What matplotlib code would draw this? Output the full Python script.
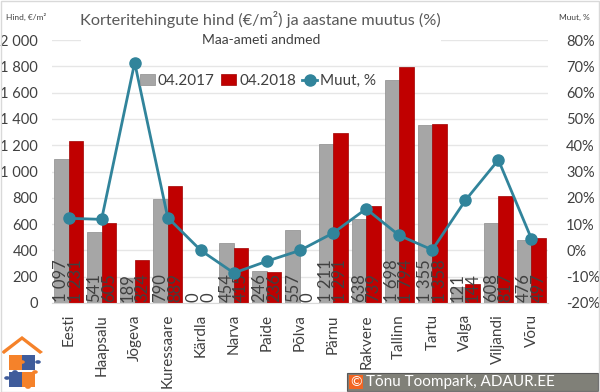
import matplotlib
matplotlib.use("Agg")
import matplotlib.pyplot as plt
from matplotlib.patches import Rectangle, Polygon, Circle
from matplotlib.ticker import FuncFormatter, MultipleLocator
import numpy as np

plt.rcParams['font.family'] = ['Lato', 'DejaVu Sans']

categories = ["Eesti", "Haapsalu", "Jõgeva", "Kuressaare", "Kärdla", "Narva", "Paide",
              "Põlva", "Pärnu", "Rakvere", "Tallinn", "Tartu", "Valga", "Viljandi", "Võru"]
price_2017 = [1097, 541, 189, 790, 0, 454, 246, 557, 1211, 638, 1698, 1355, 121, 608, 476]
price_2018 = [1231, 605, 324, 889, 0, 415, 236, 0, 1291, 739, 1794, 1358, 144, 817, 497]
change_pct = [12.2, 11.8, 71.4, 12.5, 0.0, -8.6, -4.1, 0.0, 6.6, 15.8, 5.7, 0.2, 19.0, 34.4, 4.4]

GRAY = "#A6A6A6"
RED = "#C00000"
TEAL = "#31849B"
TXT = "#404040"

fig = plt.figure(figsize=(6.0, 3.92), dpi=100)
ax = fig.add_axes([52/600, 1-303/392, 496/600, 263/392])
ax2 = ax.twinx()

x = np.arange(len(categories))
w = 0.44
ax.bar(x - w/2, price_2017, w, color=GRAY, edgecolor="#8C8C8C", linewidth=0.5, label="04.2017", zorder=2)
ax.bar(x + w/2, price_2018, w, color=RED, edgecolor="#A00000", linewidth=0.5, label="04.2018", zorder=2)

for xi, v in zip(x - w/2, price_2017):
    ax.text(xi, 4, f"{v:,}".replace(",", " "), rotation=90, ha="center", va="bottom",
            fontsize=12, color=TXT, zorder=3)
for xi, v in zip(x + w/2, price_2018):
    ax.text(xi, 4, f"{v:,}".replace(",", " "), rotation=90, ha="center", va="bottom",
            fontsize=12, color=TXT, zorder=3)

ax.set_ylim(0, 2000)
ax.set_xlim(-0.5, len(categories) - 0.5)
ax.yaxis.set_major_locator(MultipleLocator(200))
ax.yaxis.set_major_formatter(FuncFormatter(lambda v, p: f"{int(v):,}".replace(",", " ")))
ax.grid(axis="y", color="#E6E6E6", linewidth=1, zorder=0)
ax.set_axisbelow(True)
ax.set_xticks(x)
ax.set_xticklabels(categories, rotation=90, fontsize=11, color=TXT)
ax.tick_params(axis="x", length=0, pad=8)
ax.tick_params(axis="y", length=0, labelsize=10.5, labelcolor=TXT, pad=10)
for s in ["top", "left", "right"]:
    ax.spines[s].set_visible(False)
ax.spines["bottom"].set_color("#D9D9D9")

ax2.plot(x, change_pct, color=TEAL, linewidth=2, marker="o", markersize=8, label="Muut, %", zorder=4)
ax2.set_ylim(-20, 80)
ax2.yaxis.set_major_locator(MultipleLocator(10))
ax2.yaxis.set_major_formatter(FuncFormatter(lambda v, p: f"{int(round(v))}%"))
ax2.tick_params(axis="y", length=0, labelsize=10.5, labelcolor=TXT, pad=13)
for s in ["top", "left", "right", "bottom"]:
    ax2.spines[s].set_visible(False)

h1, l1 = ax.get_legend_handles_labels()
h2, l2 = ax2.get_legend_handles_labels()
fig.legend(h1 + h2, l1 + l2, loc="center", bbox_to_anchor=(258/600, 1-81/392), ncol=3,
           frameon=False, fontsize=11, handlelength=1.0, handletextpad=0.2,
           columnspacing=0.4, labelcolor=TXT)

# white box behind titles (covers top gridline)
fig.patches.append(Rectangle((81/600, 1-50/392), 360/600, 20/392, transform=fig.transFigure,
                             facecolor="white", edgecolor="none", zorder=5))
fig.text(260/600, 1-19/392, "Korteritehingute hind (€/m²) ja aastane muutus (%)", ha="center",
         va="center", fontsize=11.7, color="#595959", zorder=6)
fig.text(261/600, 1-40/392, "Maa-ameti andmed", ha="center", va="center", fontsize=10,
         color=TXT, zorder=6)
fig.text(6/600, 1-17/392, "Hind, €/m²", ha="left", va="center", fontsize=6, color=TXT)
fig.text(590/600, 1-17/392, "Muut, %", ha="right", va="center", fontsize=6, color=TXT)

# logo (puzzle house)
def fx(px): return px/600
def fy(py): return 1 - py/392
ORANGE = "#F5822A"
BLUE = "#3F5C9B"
fig.patches.append(Polygon([(fx(1), fy(352)), (fx(22), fy(336)), (fx(43), fy(352)),
                            (fx(40), fy(354)), (fx(22), fy(340)), (fx(4), fy(354))],
                           closed=True, transform=fig.transFigure, facecolor=ORANGE, edgecolor="none"))
pieces = [(9, 355, ORANGE), (22, 355, BLUE), (9, 372, BLUE), (22, 372, ORANGE)]
for px, py, c in pieces:
    fig.patches.append(Rectangle((fx(px), fy(py + 15)), 13/600, 15/392, transform=fig.transFigure,
                                 facecolor=c, edgecolor="none"))
for cx, cy, c in [(22, 362, ORANGE), (15, 372, BLUE), (35, 372, ORANGE), (28, 387, ORANGE),
                  (7, 378, BLUE), (38, 362, BLUE)]:
    fig.patches.append(Circle((fx(cx), fy(cy)), 2.8/600, transform=fig.transFigure,
                              facecolor=c, edgecolor="none"))

# copyright box
fig.patches.append(Rectangle((fx(347), fy(391)), 251/600, 18/392, transform=fig.transFigure,
                             facecolor="#808078", edgecolor="#595959", linewidth=0.8))
fig.patches.append(Rectangle((fx(349), fy(389)), 14/600, 14/392, transform=fig.transFigure,
                             facecolor="#F26522", edgecolor="none"))
fig.text(fx(356), fy(382), "©", ha="center", va="center", fontsize=10, color="white")
fig.text(fx(366), fy(382), "Tõnu Toompark, ADAUR.EE", ha="left", va="center", fontsize=11,
         color="white")

# figure border
fig.patches.append(Rectangle((0.001, 0.001), 0.997, 0.997, transform=fig.transFigure,
                             facecolor="none", edgecolor="#D9D9D9", linewidth=1))

fig.savefig("out.png", dpi=100)
